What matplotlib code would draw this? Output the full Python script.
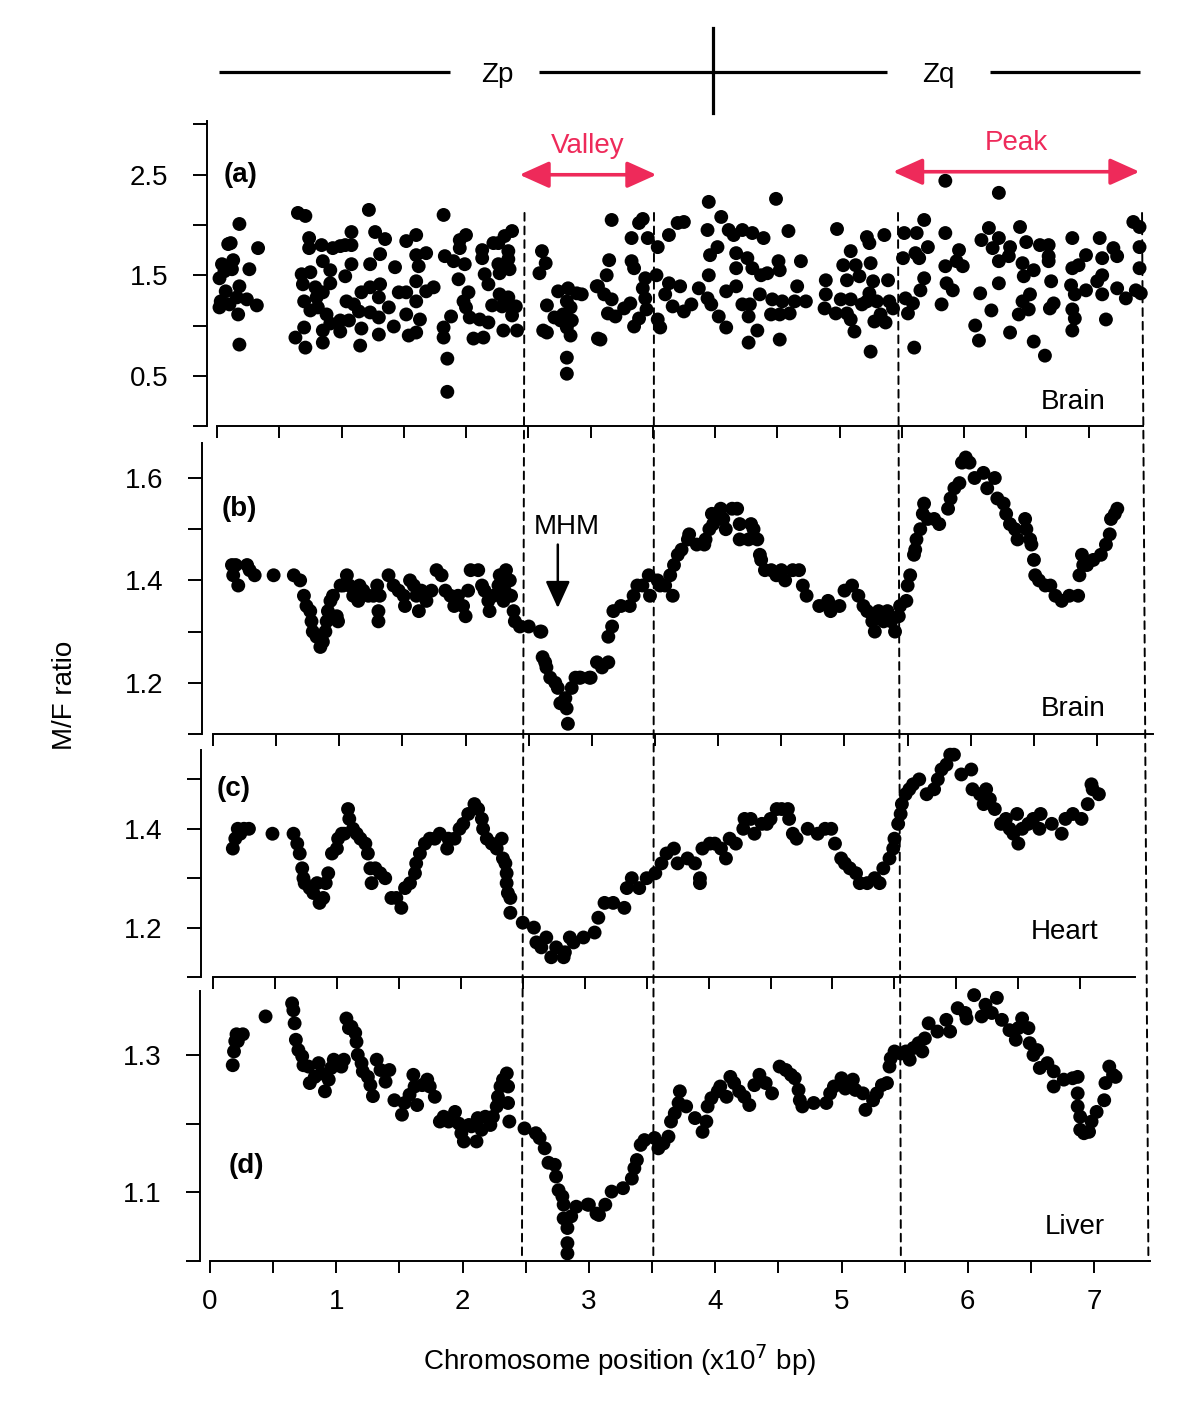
import numpy as np
import matplotlib
matplotlib.use('Agg')
import matplotlib.pyplot as plt
from matplotlib.patches import ConnectionPatch

plt.rcParams['font.family'] = ['Liberation Sans', 'DejaVu Sans']

# ---- data: (position x1e7 bp, M/F ratio) ----
brain_raw = [
    (0.18, 2.01), (0.09, 1.81), (0.11, 1.82), (0.13, 1.65), (0.04, 1.61), (0.06, 1.54), (0.02, 1.47),
    (0.12, 1.56), (0.07, 1.34), (0.03, 1.24), (0.02, 1.18), (0.10, 1.21), (0.18, 1.39), (0.16, 1.28),
    (0.24, 1.26), (0.17, 1.11), (0.26, 1.56), (0.33, 1.77), (0.32, 1.20), (0.18, 0.81),
    (0.65, 2.12), (0.71, 2.09), (0.74, 1.87), (0.74, 1.77), (0.68, 1.51), (0.75, 1.53), (0.69, 1.41),
    (0.79, 1.38), (0.85, 1.33), (0.80, 1.28), (0.70, 1.24), (0.75, 1.15), (0.81, 1.18), (0.88, 1.11),
    (0.70, 0.98), (0.85, 0.95), (0.63, 0.88), (0.71, 0.78), (0.85, 0.83), (0.84, 1.80), (0.85, 1.64),
    (0.91, 1.55), (0.91, 1.42), (0.93, 1.77), (0.99, 1.79), (1.03, 1.80), (1.08, 1.93), (1.08, 1.80),
    (1.08, 1.61), (1.03, 1.49), (1.04, 1.24), (1.10, 1.21), (1.14, 1.14), (0.99, 1.05), (0.91, 1.02),
    (1.06, 1.05), (0.99, 0.94), (1.16, 1.33), (1.23, 1.38), (1.23, 1.61), (1.31, 1.71), (1.22, 2.15),
    (1.27, 1.93), (1.35, 1.86), (1.16, 0.97), (1.15, 0.80), (1.23, 1.13), (1.30, 1.08), (1.30, 0.91),
    (1.30, 1.28), (1.31, 1.41), (1.38, 1.18), (1.42, 0.99), (1.43, 1.58), (1.46, 1.33), (1.52, 1.33),
    (1.52, 1.84), (1.60, 1.90), (1.60, 1.70), (1.62, 1.59), (1.60, 1.44), (1.60, 1.24), (1.52, 1.11),
    (1.63, 1.06), (1.54, 0.90), (1.60, 0.93), (1.68, 1.72), (1.68, 1.34), (1.74, 1.38), (1.82, 2.10),
    (1.83, 1.69), (1.90, 1.64), (1.82, 0.98), (1.82, 0.88), (1.88, 1.09), (1.85, 0.67), (1.85, 0.34),
    (1.95, 1.85), (2.00, 1.90), (1.95, 1.77), (1.99, 1.61), (1.94, 1.46), (2.02, 1.33), (1.98, 1.24),
    (2.00, 1.18), (2.03, 1.08), (2.11, 1.06), (2.18, 1.03), (2.06, 0.87), (2.14, 0.88), (2.13, 1.75),
    (2.13, 1.67), (2.15, 1.51), (2.18, 1.41), (2.21, 1.20), (2.22, 1.82), (2.26, 1.82), (2.31, 1.89),
    (2.37, 1.94), (2.26, 1.61), (2.27, 1.52), (2.34, 1.74), (2.34, 1.66), (2.35, 1.56), (2.27, 1.31),
    (2.34, 1.28), (2.29, 1.19), (2.37, 1.18), (2.40, 1.19), (2.37, 1.10), (2.30, 0.95), (2.41, 0.95),
    (2.61, 1.74), (2.64, 1.62), (2.59, 1.52), (2.65, 1.20), (2.62, 0.95), (2.65, 0.93), (2.74, 1.34),
    (2.82, 1.37), (2.89, 1.32), (2.93, 1.31), (2.71, 1.08), (2.78, 1.11), (2.84, 1.18), (2.81, 1.24),
    (2.85, 1.05), (2.81, 0.98), (2.84, 0.90), (2.76, 1.05), (2.81, 0.68), (2.81, 0.52), (3.05, 1.39),
    (3.06, 0.87),
    (3.17, 2.05), (3.15, 1.65), (3.13, 1.50), (3.06, 1.39), (3.11, 1.31), (3.17, 1.26), (3.14, 1.12),
    (3.20, 1.09), (3.08, 0.86), (3.33, 1.87), (3.33, 1.64), (3.35, 1.57), (3.27, 1.17), (3.32, 1.22),
    (3.39, 2.02), (3.42, 2.06), (3.46, 1.87), (3.44, 1.47), (3.42, 1.37), (3.44, 1.27), (3.39, 1.07),
    (3.35, 0.99), (3.45, 1.16), (3.54, 1.78), (3.53, 1.50), (3.54, 1.06), (3.56, 0.98), (3.63, 1.90),
    (3.70, 2.02), (3.75, 2.03), (3.63, 1.42), (3.72, 1.39), (3.60, 1.31), (3.66, 1.19), (3.75, 1.14),
    (3.81, 1.21), (3.87, 1.37), (3.95, 2.23), (4.05, 2.08), (3.94, 1.95), (3.96, 1.70), (3.95, 1.50),
    (3.94, 1.27), (3.97, 1.21), (4.03, 1.09), (4.09, 0.98), (4.02, 1.78), (4.11, 1.95), (4.15, 1.90),
    (4.22, 1.95), (4.30, 1.92), (4.39, 1.87), (4.17, 1.72), (4.17, 1.57), (4.26, 1.67), (4.30, 1.57),
    (4.37, 1.50), (4.42, 1.52), (4.09, 1.34), (4.17, 1.39), (4.22, 1.21), (4.28, 1.21), (4.36, 1.31),
    (4.27, 1.09), (4.34, 0.95), (4.27, 0.83), (4.49, 2.26), (4.51, 1.64), (4.52, 1.55), (4.46, 1.26),
    (4.54, 1.24), (4.45, 1.11), (4.52, 1.11), (4.60, 1.12), (4.52, 0.86), (4.59, 1.94), (4.69, 1.64),
    (4.66, 1.39), (4.64, 1.24), (4.73, 1.24), (4.89, 1.45), (4.89, 1.31), (4.88, 1.17), (4.98, 1.96),
    (4.97, 1.12), (5.03, 1.60), (5.09, 1.74), (5.06, 1.45), (5.01, 1.26), (5.09, 1.26), (5.06, 1.12),
    (5.09, 1.06), (5.12, 0.94), (5.13, 1.60), (5.16, 1.49), (5.22, 1.88), (5.24, 1.82), (5.25, 1.62),
    (5.27, 1.44), (5.24, 1.32), (5.22, 1.24), (5.18, 1.21), (5.30, 1.24), (5.28, 1.04), (5.25, 0.74),
    (5.36, 1.90), (5.39, 1.45), (5.40, 1.24), (5.37, 1.03), (5.33, 1.11), (5.43, 1.17), (5.52, 1.92),
    (5.51, 1.67), (5.53, 1.27), (5.55, 1.12), (5.59, 1.22), (5.60, 0.78), (5.62, 1.92), (5.68, 2.05),
    (5.61, 1.72), (5.64, 1.67), (5.71, 1.78), (5.68, 1.47), (5.65, 1.35), (5.85, 2.44), (5.85, 1.92),
    (5.85, 1.59), (5.86, 1.42), (5.91, 1.35), (5.82, 1.21), (5.96, 1.75), (5.94, 1.64), (5.99, 1.59),
    (6.13, 1.32), (6.09, 1.00), (6.12, 0.85), (6.22, 1.15), (6.28, 2.32), (6.20, 1.97), (6.14, 1.85),
    (6.28, 1.87), (6.23, 1.77), (6.28, 1.64), (6.37, 1.78), (6.36, 1.69), (6.28, 1.42), (6.45, 1.98),
    (6.50, 1.83), (6.47, 1.62), (6.56, 1.55), (6.48, 1.49), (6.53, 1.31), (6.47, 1.24), (6.52, 1.16),
    (6.44, 1.11), (6.37, 0.93), (6.56, 0.84), (6.65, 0.70), (6.61, 1.80), (6.68, 1.80), (6.68, 1.69),
    (6.68, 1.64), (6.70, 1.44), (6.72, 1.22), (6.69, 1.17), (6.87, 1.87), (6.87, 1.57), (6.86, 1.40),
    (6.89, 1.31), (6.87, 1.16), (6.89, 1.07), (6.87, 0.95), (6.92, 1.60), (6.98, 1.70), (6.98, 1.35),
    (7.07, 1.44), (7.09, 1.87), (7.11, 1.67), (7.11, 1.50), (7.11, 1.31), (7.14, 1.06), (7.20, 1.77),
    (7.23, 1.69), (7.23, 1.37), (7.30, 1.27), (7.36, 2.03), (7.41, 1.98), (7.41, 1.78), (7.41, 1.57),
    (7.38, 1.35), (7.42, 1.32),
]

brain_smooth = [
    (0.15, 1.43), (0.18, 1.43), (0.16, 1.41), (0.20, 1.39), (0.27, 1.43), (0.29, 1.42), (0.33, 1.41),
    (0.48, 1.41), (0.64, 1.41), (0.69, 1.40), (0.72, 1.37), (0.74, 1.35), (0.77, 1.34), (0.78, 1.32),
    (0.79, 1.30), (0.82, 1.29), (0.85, 1.27), (0.87, 1.28), (0.89, 1.30), (0.90, 1.32), (0.91, 1.34),
    (0.93, 1.36), (0.95, 1.37), (0.98, 1.33), (0.99, 1.32), (1.01, 1.39), (1.03, 1.39), (1.06, 1.41),
    (1.08, 1.39), (1.11, 1.37), (1.15, 1.36), (1.16, 1.39), (1.19, 1.38), (1.23, 1.37), (1.27, 1.37),
    (1.30, 1.39), (1.31, 1.34), (1.31, 1.32), (1.32, 1.37), (1.39, 1.41), (1.43, 1.39), (1.47, 1.38),
    (1.51, 1.37), (1.52, 1.35), (1.56, 1.40), (1.59, 1.39), (1.61, 1.37), (1.63, 1.34), (1.65, 1.38),
    (1.69, 1.36), (1.73, 1.38), (1.77, 1.42), (1.81, 1.41), (1.84, 1.38), (1.88, 1.37), (1.91, 1.35),
    (1.94, 1.37), (1.98, 1.35), (2.00, 1.33), (2.02, 1.38), (2.04, 1.42), (2.10, 1.42), (2.13, 1.39),
    (2.15, 1.38), (2.18, 1.36), (2.19, 1.34), (2.22, 1.37), (2.26, 1.39), (2.27, 1.41), (2.30, 1.36),
    (2.31, 1.38), (2.32, 1.42), (2.35, 1.40), (2.36, 1.37), (2.38, 1.34), (2.39, 1.32), (2.43, 1.31),
    (2.50, 1.31), (2.59, 1.30), (2.60, 1.30), (2.61, 1.25), (2.63, 1.24), (2.64, 1.23), (2.67, 1.21),
    (2.71, 1.20), (2.73, 1.19), (2.75, 1.16), (2.79, 1.17), (2.80, 1.15), (2.81, 1.12), (2.84, 1.19),
    (2.87, 1.21), (2.90, 1.21), (2.98, 1.21), (3.04, 1.24),
    (2.91, 1.21), (2.99, 1.21), (3.08, 1.23), (3.13, 1.24), (3.13, 1.29), (3.16, 1.31), (3.17, 1.34),
    (3.23, 1.35), (3.30, 1.35), (3.33, 1.37), (3.36, 1.39), (3.40, 1.39), (3.45, 1.41), (3.46, 1.37),
    (3.52, 1.40), (3.54, 1.39), (3.58, 1.39), (3.62, 1.41), (3.64, 1.37), (3.65, 1.43), (3.68, 1.45),
    (3.71, 1.46), (3.76, 1.48), (3.77, 1.49), (3.83, 1.47), (3.89, 1.47), (3.90, 1.48), (3.93, 1.50),
    (3.95, 1.53), (3.96, 1.51), (4.02, 1.54), (4.04, 1.52), (4.06, 1.50), (4.11, 1.54), (4.15, 1.54),
    (4.17, 1.51), (4.17, 1.48), (4.24, 1.48), (4.26, 1.51), (4.28, 1.50), (4.31, 1.48), (4.33, 1.45),
    (4.34, 1.44), (4.37, 1.42), (4.42, 1.42), (4.46, 1.41), (4.50, 1.42), (4.53, 1.40), (4.59, 1.42),
    (4.64, 1.42), (4.67, 1.39), (4.70, 1.37), (4.80, 1.35), (4.87, 1.36), (4.89, 1.34), (4.96, 1.35),
    (5.00, 1.38), (5.06, 1.39), (5.11, 1.37), (5.15, 1.35), (5.18, 1.34), (5.22, 1.32), (5.24, 1.30),
    (5.27, 1.34), (5.31, 1.32), (5.34, 1.34), (5.37, 1.32), (5.40, 1.30), (5.43, 1.33), (5.44, 1.35),
    (5.49, 1.36), (5.50, 1.39), (5.52, 1.41), (5.55, 1.45), (5.56, 1.46), (5.57, 1.48), (5.60, 1.50),
    (5.62, 1.53), (5.63, 1.55), (5.66, 1.52), (5.71, 1.52), (5.75, 1.51), (5.82, 1.54), (5.84, 1.56),
    (5.87, 1.58), (5.91, 1.59), (5.93, 1.63), (5.96, 1.64), (5.99, 1.63), (6.03, 1.60), (6.10, 1.61),
    (6.13, 1.58), (6.19, 1.60), (6.21, 1.56), (6.26, 1.55), (6.28, 1.53), (6.31, 1.51), (6.35, 1.50),
    (6.37, 1.48), (6.43, 1.52), (6.44, 1.50), (6.47, 1.48), (6.48, 1.47), (6.50, 1.44), (6.51, 1.41),
    (6.54, 1.40), (6.59, 1.39), (6.63, 1.39), (6.67, 1.37), (6.72, 1.36), (6.78, 1.37), (6.85, 1.37),
    (6.86, 1.41), (6.88, 1.45), (6.89, 1.43), (6.92, 1.43), (6.97, 1.44), (7.03, 1.45), (7.07, 1.47),
    (7.10, 1.49), (7.11, 1.52), (7.14, 1.53), (7.16, 1.54),
]

heart_smooth = [
    (0.16, 1.36), (0.18, 1.38), (0.20, 1.40), (0.22, 1.39), (0.25, 1.40), (0.29, 1.40), (0.48, 1.39),
    (0.65, 1.39), (0.68, 1.37), (0.70, 1.35), (0.72, 1.32), (0.73, 1.30), (0.74, 1.29), (0.78, 1.28),
    (0.81, 1.27), (0.84, 1.29), (0.86, 1.25), (0.89, 1.26), (0.91, 1.29), (0.93, 1.31), (0.96, 1.35),
    (1.00, 1.36), (1.01, 1.38), (1.04, 1.39), (1.06, 1.39), (1.09, 1.44), (1.10, 1.42), (1.13, 1.40),
    (1.16, 1.39), (1.19, 1.38), (1.23, 1.37), (1.25, 1.35), (1.27, 1.32), (1.28, 1.29), (1.31, 1.32),
    (1.35, 1.31), (1.39, 1.30), (1.44, 1.26), (1.48, 1.26), (1.52, 1.24), (1.55, 1.28), (1.59, 1.29),
    (1.63, 1.31), (1.64, 1.33), (1.67, 1.35), (1.71, 1.37), (1.75, 1.38), (1.79, 1.38), (1.83, 1.39),
    (1.89, 1.36), (1.90, 1.38), (1.95, 1.38), (1.99, 1.40), (2.02, 1.41), (2.06, 1.43), (2.11, 1.45),
    (2.14, 1.44), (2.17, 1.42), (2.18, 1.40), (2.21, 1.38), (2.25, 1.37), (2.29, 1.36), (2.33, 1.38),
    (2.34, 1.34), (2.36, 1.33), (2.37, 1.31), (2.37, 1.29), (2.38, 1.27), (2.40, 1.26), (2.40, 1.23),
    (2.50, 1.21), (2.59, 1.20), (2.61, 1.17), (2.65, 1.16), (2.69, 1.18), (2.73, 1.14), (2.77, 1.16),
    (2.83, 1.14), (2.84, 1.15), (2.88, 1.18), (2.91, 1.17), (2.99, 1.18), (3.08, 1.19),
    (3.11, 1.22), (3.16, 1.25), (3.23, 1.25), (3.32, 1.24), (3.34, 1.28), (3.38, 1.30), (3.44, 1.28),
    (3.50, 1.30), (3.57, 1.31), (3.62, 1.33), (3.66, 1.35), (3.72, 1.36), (3.75, 1.33), (3.83, 1.34),
    (3.89, 1.33), (3.93, 1.30), (3.93, 1.29), (3.95, 1.36), (4.01, 1.37), (4.05, 1.37), (4.10, 1.36),
    (4.14, 1.34), (4.17, 1.38), (4.22, 1.37), (4.28, 1.40), (4.29, 1.42), (4.34, 1.42), (4.37, 1.39),
    (4.43, 1.41), (4.47, 1.41), (4.50, 1.42), (4.55, 1.44), (4.59, 1.44), (4.64, 1.44), (4.65, 1.42),
    (4.68, 1.39), (4.71, 1.38), (4.80, 1.40), (4.88, 1.39), (4.94, 1.40), (4.99, 1.40), (5.02, 1.37),
    (5.07, 1.34), (5.10, 1.33), (5.14, 1.32), (5.19, 1.31), (5.22, 1.29), (5.28, 1.29), (5.34, 1.30),
    (5.38, 1.29), (5.41, 1.32), (5.46, 1.34), (5.49, 1.36), (5.50, 1.38), (5.53, 1.41), (5.55, 1.43),
    (5.56, 1.45), (5.59, 1.47), (5.62, 1.48), (5.65, 1.49), (5.70, 1.50), (5.76, 1.47), (5.82, 1.48),
    (5.85, 1.50), (5.88, 1.52), (5.92, 1.53), (5.95, 1.55), (5.98, 1.55), (6.04, 1.51), (6.12, 1.52),
    (6.13, 1.48), (6.19, 1.47), (6.24, 1.48), (6.22, 1.45), (6.27, 1.46), (6.31, 1.44), (6.36, 1.41),
    (6.40, 1.42), (6.43, 1.40), (6.46, 1.39), (6.49, 1.43), (6.50, 1.37), (6.53, 1.40), (6.58, 1.41),
    (6.62, 1.42), (6.67, 1.40), (6.68, 1.43), (6.77, 1.41), (6.85, 1.39), (6.88, 1.42), (6.94, 1.43),
    (7.01, 1.42), (7.06, 1.45), (7.09, 1.49), (7.10, 1.48), (7.15, 1.47),
]

liver_smooth = [
    (0.18, 1.285), (0.19, 1.305), (0.20, 1.320), (0.21, 1.330), (0.22, 1.320), (0.26, 1.330),
    (0.44, 1.356), (0.65, 1.375), (0.66, 1.365), (0.67, 1.346), (0.68, 1.322), (0.70, 1.307),
    (0.73, 1.298), (0.74, 1.285), (0.78, 1.283), (0.79, 1.259), (0.83, 1.268), (0.86, 1.288),
    (0.88, 1.273), (0.91, 1.247), (0.94, 1.264), (0.96, 1.281), (0.98, 1.293), (1.02, 1.288),
    (1.04, 1.283), (1.06, 1.293), (1.08, 1.353), (1.10, 1.339), (1.12, 1.341), (1.15, 1.332),
    (1.16, 1.319), (1.17, 1.300), (1.20, 1.288), (1.21, 1.276), (1.25, 1.268), (1.27, 1.256),
    (1.29, 1.240), (1.32, 1.293), (1.35, 1.278), (1.39, 1.261), (1.42, 1.278), (1.46, 1.234),
    (1.52, 1.213), (1.54, 1.230), (1.58, 1.242), (1.61, 1.271), (1.62, 1.254), (1.64, 1.227),
    (1.68, 1.256), (1.72, 1.264), (1.74, 1.254), (1.78, 1.239), (1.82, 1.203), (1.85, 1.210),
    (1.89, 1.203), (1.94, 1.217), (1.97, 1.200), (1.99, 1.186), (2.01, 1.174), (2.05, 1.198),
    (2.07, 1.196), (2.11, 1.174), (2.12, 1.208), (2.15, 1.191), (2.18, 1.210), (2.22, 1.198),
    (2.24, 1.210), (2.27, 1.225), (2.28, 1.239), (2.30, 1.254), (2.32, 1.264), (2.35, 1.273),
    (2.36, 1.254), (2.36, 1.230), (2.37, 1.203), (2.49, 1.193), (2.58, 1.186), (2.61, 1.179),
    (2.65, 1.164), (2.68, 1.143), (2.73, 1.140), (2.74, 1.123), (2.76, 1.103), (2.79, 1.094),
    (2.80, 1.082), (2.80, 1.062), (2.83, 1.048), (2.83, 1.026), (2.83, 1.011), (2.86, 1.065),
    (2.90, 1.079), (2.99, 1.082), (3.06, 1.069),
    (3.00, 1.082), (3.08, 1.067), (3.13, 1.082), (3.18, 1.101), (3.27, 1.106), (3.34, 1.120),
    (3.36, 1.135), (3.38, 1.147), (3.41, 1.169), (3.44, 1.176), (3.52, 1.179), (3.55, 1.164),
    (3.59, 1.171), (3.63, 1.181), (3.65, 1.203), (3.68, 1.215), (3.71, 1.230), (3.72, 1.247),
    (3.77, 1.225), (3.84, 1.208), (3.90, 1.188), (3.93, 1.203), (3.94, 1.225), (3.97, 1.237),
    (4.02, 1.247), (4.04, 1.254), (4.09, 1.239), (4.12, 1.268), (4.15, 1.259), (4.19, 1.247),
    (4.23, 1.239), (4.27, 1.227), (4.31, 1.256), (4.35, 1.271), (4.40, 1.259), (4.45, 1.244),
    (4.51, 1.283), (4.56, 1.278), (4.60, 1.271), (4.63, 1.266), (4.66, 1.249), (4.67, 1.234),
    (4.69, 1.225), (4.78, 1.230), (4.88, 1.230), (4.91, 1.244), (4.94, 1.254), (5.00, 1.266),
    (5.03, 1.251), (5.09, 1.264), (5.11, 1.249), (5.17, 1.244), (5.19, 1.220), (5.25, 1.234),
    (5.28, 1.244), (5.32, 1.256), (5.36, 1.259), (5.38, 1.283), (5.39, 1.295), (5.42, 1.305),
    (5.47, 1.302), (5.51, 1.305), (5.54, 1.293), (5.57, 1.310), (5.61, 1.317), (5.64, 1.305),
    (5.66, 1.324), (5.69, 1.346), (5.76, 1.334), (5.83, 1.351), (5.86, 1.334), (5.92, 1.368),
    (5.98, 1.361), (5.99, 1.353), (6.05, 1.387), (6.11, 1.356), (6.14, 1.373), (6.23, 1.383),
    (6.19, 1.361), (6.27, 1.351), (6.33, 1.336), (6.38, 1.322), (6.40, 1.339), (6.43, 1.353),
    (6.48, 1.339), (6.49, 1.317), (6.52, 1.300), (6.55, 1.307), (6.57, 1.281), (6.63, 1.288),
    (6.68, 1.276), (6.68, 1.254), (6.76, 1.264), (6.83, 1.266), (6.87, 1.268), (6.87, 1.244),
    (6.87, 1.225), (6.89, 1.210), (6.89, 1.191), (6.92, 1.186), (6.96, 1.188), (6.98, 1.203),
    (7.02, 1.217), (7.08, 1.234), (7.09, 1.259), (7.12, 1.283), (7.15, 1.271), (7.17, 1.268),
]

# region boundaries (valley / peak) and chromosome Z arms
valley = (2.43, 3.53)
peak = (5.43, 7.41)
region_edges = [2.47, 3.51, 5.47, 7.43]
arm_segments = [(0.02, 1.87), (2.59, 5.38), (6.21, 7.41)]
centromere = 3.98
arm_labels = [('Zp', 2.25), ('Zq', 5.79)]

PINK = '#ee2a5a'
FS = 20

W, H = 1200, 1426
fig = plt.figure(figsize=(W / 100, H / 100), dpi=100)


def add_panel(x0, sx, xlim, ybase, sy, ylim):
    # place axes so that data units land on the same pixels as the original
    left = x0 + xlim[0] * sx
    right = x0 + xlim[1] * sx
    top = ybase - (ylim[1] - ylim[0]) * sy
    ax = fig.add_axes([left / W, 1 - ybase / H, (right - left) / W, (ybase - top) / H])
    ax.set_xlim(*xlim)
    ax.set_ylim(*ylim)
    for s in ('top', 'right'):
        ax.spines[s].set_visible(False)
    ax.spines['bottom'].set_bounds(0, 7.44)
    for s in ('left', 'bottom'):
        ax.spines[s].set_linewidth(1.4)
    ax.tick_params(axis='x', direction='out', length=8.5, width=1.4, labelsize=FS, pad=12)
    ax.tick_params(axis='y', direction='out', length=10, width=1.4, labelsize=FS, pad=18)
    ax.set_xticks(np.arange(0, 7.01, 0.5))
    ax.set_xticklabels([])
    return ax


def set_yticks(ax, ticks, shown):
    ax.set_yticks(ticks)
    ax.set_yticklabels([f'{t:.1f}' if round(t, 2) in shown else '' for t in ticks])


ax_a = add_panel(217, 124.5, (-0.08, 7.46), 426, 100.5, (0, 3.03))
ax_b = add_panel(213, 126.3, (-0.087, 7.46), 734, 512, (1.1, 1.668))
ax_c = add_panel(213, 123.9, (-0.097, 7.46), 977, 494, (1.1, 1.56))
ax_d = add_panel(210, 126.3, (-0.079, 7.46), 1261, 687, (1.0, 1.393))

set_yticks(ax_a, [0, 0.5, 1.0, 1.5, 2.0, 2.5, 3.0], [0.5, 1.5, 2.5])
set_yticks(ax_b, [1.1, 1.2, 1.3, 1.4, 1.5, 1.6], [1.2, 1.4, 1.6])
set_yticks(ax_c, [1.1, 1.2, 1.3, 1.4, 1.5], [1.2, 1.4])
set_yticks(ax_d, [1.0, 1.1, 1.2, 1.3], [1.1, 1.3])
ax_d.set_xticklabels([str(int(t)) if t % 1 == 0 else '' for t in np.arange(0, 7.01, 0.5)])

for ax, pts in [(ax_a, brain_raw), (ax_b, brain_smooth), (ax_c, heart_smooth), (ax_d, liver_smooth)]:
    xs, ys = zip(*pts)
    ax.scatter(xs, ys, s=100, color='black', edgecolors='none', clip_on=False, zorder=3)

# panel tags and tissue names
ax_a.text(0.19, 2.5, '(a)', fontsize=FS, fontweight='bold', ha='center', va='center')
ax_b.text(0.21, 1.54, '(b)', fontsize=FS, fontweight='bold', ha='center', va='center')
ax_c.text(0.17, 1.48, '(c)', fontsize=FS, fontweight='bold', ha='center', va='center')
ax_d.text(0.29, 1.138, '(d)', fontsize=FS, fontweight='bold', ha='center', va='center')
ax_a.text(6.88, 0.24, 'Brain', fontsize=FS, ha='center', va='center')
ax_b.text(6.81, 1.149, 'Brain', fontsize=FS, ha='center', va='center')
ax_c.text(6.87, 1.191, 'Heart', fontsize=FS, ha='center', va='center')
ax_d.text(6.85, 1.049, 'Liver', fontsize=FS, ha='center', va='center')

# MHM marker
ax_b.text(2.80, 1.504, 'MHM', fontsize=FS, ha='center', va='center')
ax_b.annotate('', xy=(2.73, 1.346), xytext=(2.73, 1.47),
              arrowprops=dict(arrowstyle='-|>,head_length=0.55,head_width=0.25',
                              color='black', lw=1.8, mutation_scale=30, shrinkA=0, shrinkB=0))

# valley / peak arrows
for (x1, x2), yarr, label in [(valley, 2.50, 'Valley'), (peak, 2.53, 'Peak')]:
    ax_a.annotate('', xy=(x1, yarr), xytext=(x2, yarr),
                  arrowprops=dict(arrowstyle='<|-|>,head_length=0.6,head_width=0.27',
                                  color=PINK, lw=2.6, mutation_scale=30, shrinkA=0, shrinkB=0))
    ax_a.text((x1 + x2) / 2, yarr + 0.29, label, color=PINK, fontsize=FS, ha='center', va='center')

# dashed region boundaries running through all four panels
for xb in region_edges:
    con = ConnectionPatch(xyA=(xb, 2.12), coordsA='data', axesA=ax_a,
                          xyB=(xb, 1.0), coordsB='data', axesB=ax_d,
                          linestyle=(0, (4, 3)), lw=1.4, color='black', zorder=1)
    fig.add_artist(con)

# chromosome Z ideogram on top
ax_z = fig.add_axes([207 / W, 1 - 120 / H, (1145.8 - 207) / W, 100 / H])
ax_z.set_xlim(-0.08, 7.46)
ax_z.set_ylim(0, 1)
ax_z.axis('off')
for x1, x2 in arm_segments:
    ax_z.plot([x1, x2], [0.48, 0.48], color='black', lw=2.3, solid_capstyle='butt')
ax_z.plot([centromere, centromere], [0.07, 0.92], color='black', lw=2.3)
for lbl, xpos in arm_labels:
    ax_z.text(xpos, 0.48, lbl, fontsize=FS, ha='center', va='center_baseline')

fig.text(65 / W, 1 - 695 / H, 'M/F ratio', rotation=90, fontsize=FS, ha='center', va='center')
fig.text(620 / W, 1 - 1360 / H, r'Chromosome position (x10$^7$ bp)', fontsize=FS,
         ha='center', va='center')

fig.savefig('out.png', dpi=100)
